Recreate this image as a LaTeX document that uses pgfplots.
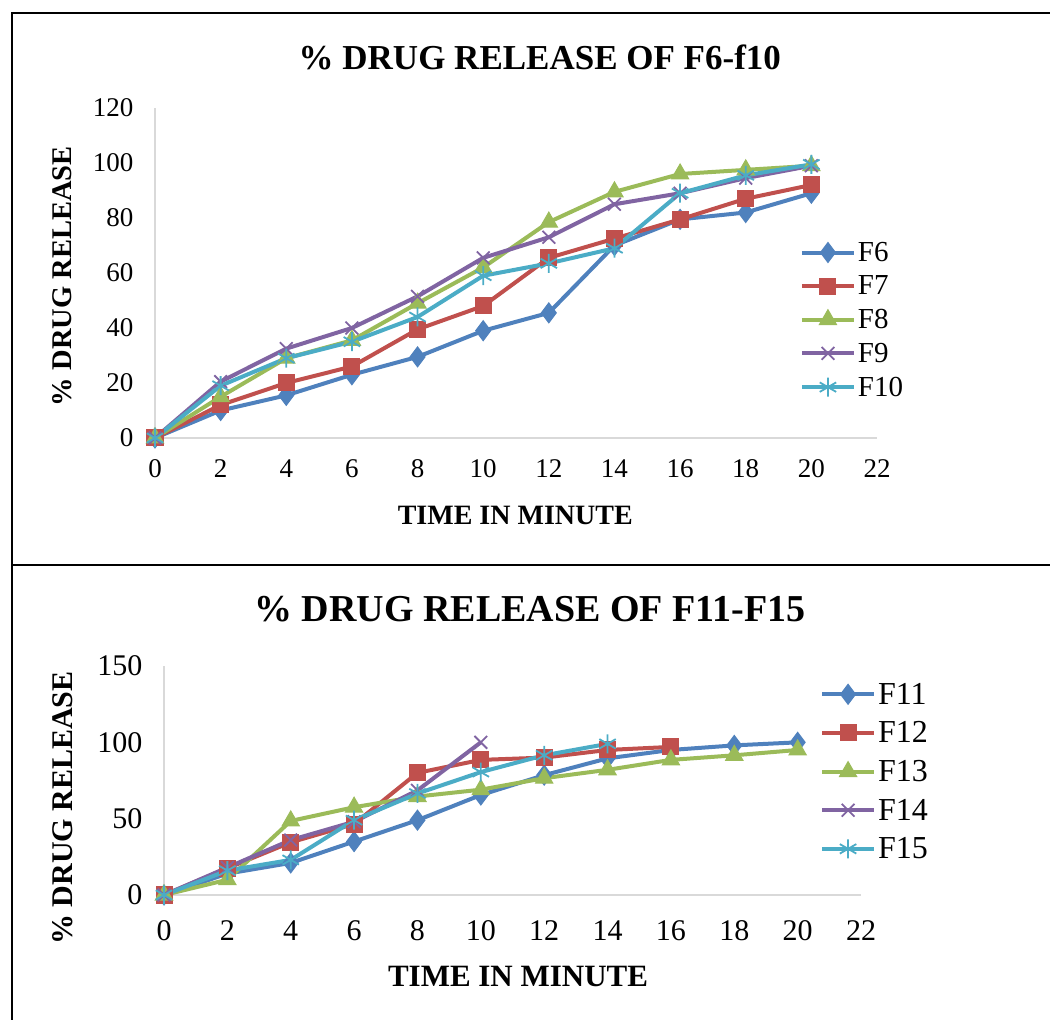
\documentclass[border=0pt]{standalone}
\usepackage{fontspec}
\setmainfont{Liberation Serif}
\usepackage{pgfplots}
\usepackage{pgfplotstable}
\pgfplotsset{compat=1.18}

\definecolor{xblue}{HTML}{4F81BD}
\definecolor{xred}{HTML}{C0504D}
\definecolor{xgreen}{HTML}{9BBB59}
\definecolor{xpurple}{HTML}{8064A2}
\definecolor{xcyan}{HTML}{4BACC6}
\definecolor{axisgray}{HTML}{D9D9D9}

% release data, formulations F6--F10
\pgfplotstableread{
t   F6    F7    F8    F9    F10
0   0     0     0     0     0
2   10    12    15    20.5  19
4   15.5  20    29    32.5  29
6   23    26    35.5  40    35
8   29.5  39.5  49    51.5  44
10  39    48    62    65.5  59
12  45.5  65.5  78.5  73    63.5
14  70    72.5  89.5  85    69
16  79.5  79.5  96    89    89
18  82    87    97.5  94.5  95.5
20  89    92    99    99    99.5
}\tableA

% release data, formulations F11--F15
\pgfplotstableread{
t   F11   F12   F13   F14   F15
0   0     0     0     0     0
2   14    17.5  10    18    16
4   21    34.5  48.5  36    23
6   35    46.5  57.5  48    49
8   49    80    64.5  68.5  66.5
10  65.5  88.5  69    100   80.5
12  78.5  90    76.5  nan   91.5
14  89.5  95    82    nan   99
16  95    97    88.5  nan   nan
18  98    nan   91.5  nan   nan
20  100   nan   95    nan   nan
}\tableB

\pgfplotsset{
  excel/.style={
    scale only axis, clip=false,
    xmin=0, xmax=22,
    axis x line=bottom, axis y line=left,
    axis line style={axisgray, line width=1.2bp, -},
    major tick length=0pt,
    /pgf/number format/assume math mode=true,
    unbounded coords=jump,
    legend cell align=left,
    legend image code/.code={%
      \draw[mark repeat=2, mark phase=2]
        plot coordinates {(0bp,0bp) (26bp,0bp) (52bp,0bp)};},
  },
  sA/.style={xblue, line width=4bp, mark=diamond*, mark size=10bp, mark options={solid, line width=1bp, fill=xblue, draw=xblue}},
  sB/.style={xred, line width=4bp, mark=square*, mark size=8bp, mark options={solid, line width=1bp, fill=xred, draw=xred}},
  sC/.style={xgreen, line width=4bp, mark=triangle*, mark size=10bp, mark options={solid, line width=1bp, fill=xgreen, draw=xgreen}},
  sD/.style={xpurple, line width=4bp, mark=x, mark size=9bp, mark options={solid, line width=1.8bp}},
  sE/.style={xcyan, line width=4bp, mark=asterisk, mark size=9.5bp, mark options={solid, line width=1.8bp}},
}

\begin{document}
\begin{tikzpicture}
% frame around the two panels
\draw[line width=2bp] (12bp,0bp) -- (12bp,1007bp) -- (1052bp,1007bp);
\draw[line width=2bp] (12bp,455bp) -- (1052bp,455bp);

% upper panel
\begin{axis}[excel,
  at={(155bp,582bp)}, anchor=south west,
  width=722bp, height=330bp,
  ymin=0, ymax=120,
  xtick={0,2,...,22}, ytick={0,20,...,120},
  tick label style={font=\fontsize{27bp}{31bp}\selectfont},
  yticklabel shift=18bp, xticklabel shift=18bp,
  title={\textbf{\% DRUG RELEASE OF F6-f10}},
  title style={at={(axis description cs:0.533,1.134)}, anchor=center,
    font=\fontsize{35bp}{40bp}\selectfont},
  xlabel={\textbf{TIME IN MINUTE}},
  xlabel style={at={(axis description cs:0.499,-0.236)}, anchor=center,
    font=\fontsize{28bp}{32bp}\selectfont},
  ylabel={\textbf{\% DRUG RELEASE}},
  every axis y label/.style={at={(axis description cs:-0.129,0.49)},
    rotate=90, anchor=center, font=\fontsize{28.5bp}{32bp}\selectfont},
  legend style={draw=none, fill=none, inner sep=0pt,
    at={(axis description cs:0.893,0.358)}, anchor=west,
    font=\fontsize{29bp}{33bp}\selectfont, row sep=9bp},
]
\addplot[sA] table[x=t, y=F6] {\tableA};  \addlegendentry{F6}
\addplot[sB] table[x=t, y=F7] {\tableA};  \addlegendentry{F7}
\addplot[sC] table[x=t, y=F8] {\tableA};  \addlegendentry{F8}
\addplot[sD] table[x=t, y=F9] {\tableA};  \addlegendentry{F9}
\addplot[sE] table[x=t, y=F10] {\tableA}; \addlegendentry{F10}
\end{axis}

% lower panel
\begin{axis}[excel,
  at={(164bp,125bp)}, anchor=south west,
  width=697bp, height=229bp,
  ymin=0, ymax=150,
  xtick={0,2,...,22}, ytick={0,50,100,150},
  tick label style={font=\fontsize{30bp}{34bp}\selectfont},
  yticklabel shift=18bp, xticklabel shift=22bp,
  title={\textbf{\% DRUG RELEASE OF F11-F15}},
  title style={at={(axis description cs:0.525,1.223)}, anchor=center,
    font=\fontsize{38bp}{43bp}\selectfont},
  xlabel={\textbf{TIME IN MINUTE}},
  xlabel style={at={(axis description cs:0.508,-0.358)}, anchor=center,
    font=\fontsize{31bp}{35bp}\selectfont},
  ylabel={\textbf{\% DRUG RELEASE}},
  every axis y label/.style={at={(axis description cs:-0.146,0.38)},
    rotate=90, anchor=center, font=\fontsize{30bp}{34bp}\selectfont},
  legend style={draw=none, fill=none, inner sep=0pt,
    at={(axis description cs:0.941,0.539)}, anchor=west,
    font=\fontsize{32bp}{36bp}\selectfont, row sep=12bp},
]
\addplot[sA] table[x=t, y=F11] {\tableB}; \addlegendentry{F11}
\addplot[sB] table[x=t, y=F12] {\tableB}; \addlegendentry{F12}
\addplot[sC] table[x=t, y=F13] {\tableB}; \addlegendentry{F13}
\addplot[sD] table[x=t, y=F14] {\tableB}; \addlegendentry{F14}
\addplot[sE] table[x=t, y=F15] {\tableB}; \addlegendentry{F15}
\end{axis}

\pgfresetboundingbox
\path[use as bounding box] (0bp,0bp) rectangle (1050bp,1020bp);
\end{tikzpicture}
\end{document}
